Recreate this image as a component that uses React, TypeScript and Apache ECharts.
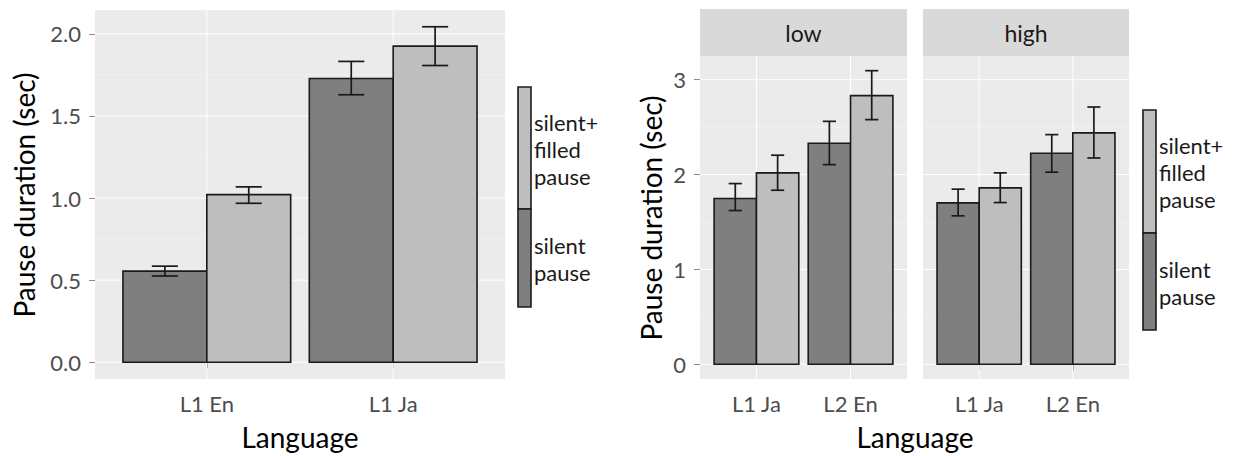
import React, { useEffect, useRef } from "react";
import * as echarts from "echarts";

// ---------- data ----------
const leftCategories = ["L1 En", "L1 Ja"];
const leftSilentMean = [0.555, 1.728];
const leftSilentLow = [0.525, 1.629];
const leftSilentHigh = [0.585, 1.832];
const leftFilledMean = [1.021, 1.925];
const leftFilledLow = [0.968, 1.807];
const leftFilledHigh = [1.068, 2.043];
const leftYTicks = [0, 0.5, 1, 1.5, 2];
const leftYMinor = [0.25, 0.75, 1.25, 1.75];

const facets = ["low", "high"];
const rightCategories = ["L1 Ja", "L2 En"];
const lowSilentMean = [1.747, 2.33];
const lowSilentLow = [1.621, 2.105];
const lowSilentHigh = [1.905, 2.561];
const lowFilledMean = [2.018, 2.832];
const lowFilledLow = [1.835, 2.579];
const lowFilledHigh = [2.204, 3.095];
const highSilentMean = [1.702, 2.225];
const highSilentLow = [1.565, 2.025];
const highSilentHigh = [1.846, 2.421];
const highFilledMean = [1.86, 2.439];
const highFilledLow = [1.705, 2.175];
const highFilledHigh = [2.018, 2.712];
const rightYTicks = [0, 1, 2, 3];
const rightYMinor = [0.5, 1.5, 2.5];

const seriesNames = ["silent pause", "silent+ filled pause"];
const legendLabels = ["silent\npause", "silent+\nfilled\npause"];
const xTitle = "Language";
const yTitle = "Pause duration (sec)";

// ---------- styles ----------
const FILLS = ["#7f7f7f", "#bebebe"];
const OUTLINE = "#1a1a1a";
const PANEL_BG = "#ebebeb";
const STRIP_BG = "#d9d9d9";
const FONT = "Lato";
const TICK_COLOR = "#4d4d4d";

function items(
  sMean: number[], sLow: number[], sHigh: number[],
  fMean: number[], fLow: number[], fHigh: number[]
) {
  const out: number[][] = [];
  sMean.forEach((m, i) => out.push([i + 1, 0, m, sLow[i], sHigh[i]]));
  fMean.forEach((m, i) => out.push([i + 1, 1, m, fLow[i], fHigh[i]]));
  return out;
}

function yRange(data: number[][]) {
  const hi = Math.max(...data.map((d) => d[4]));
  const pad = hi * 0.05;
  return [-pad, hi + pad];
}

const renderBar = (params: any, api: any) => {
  const x = api.value(0);
  const g = api.value(1);
  const mean = api.value(2);
  const x0 = x - 0.45 + g * 0.45;
  const x1 = x0 + 0.45;
  const p0 = api.coord([x0, 0]);
  const p1 = api.coord([x1, mean]);
  return {
    type: "rect",
    shape: { x: p0[0], y: p1[1], width: p1[0] - p0[0], height: p0[1] - p1[1] },
    style: { fill: FILLS[g], stroke: OUTLINE, lineWidth: 1.6 },
  };
};

const renderErr = (params: any, api: any) => {
  const x = api.value(0);
  const g = api.value(1);
  const lo = api.value(3);
  const hi = api.value(4);
  const xc = x - 0.45 + g * 0.45 + 0.225;
  const a = api.coord([xc - 0.07, hi]);
  const b = api.coord([xc + 0.07, lo]);
  const c = api.coord([xc, hi]);
  const d = api.coord([xc, lo]);
  const st = { stroke: OUTLINE, lineWidth: 1.7 };
  return {
    type: "group",
    children: [
      { type: "line", shape: { x1: a[0], y1: a[1], x2: b[0], y2: a[1] }, style: st },
      { type: "line", shape: { x1: a[0], y1: b[1], x2: b[0], y2: b[1] }, style: st },
      { type: "line", shape: { x1: c[0], y1: c[1], x2: d[0], y2: d[1] }, style: st },
    ],
  };
};

const renderGrid = (params: any, api: any) => {
  const kind = api.value(0);
  const v = api.value(1);
  const cs = params.coordSys;
  if (kind === 2) {
    const p = api.coord([v, 0]);
    return {
      type: "line",
      shape: { x1: p[0], y1: cs.y, x2: p[0], y2: cs.y + cs.height },
      style: { stroke: "#ffffff", lineWidth: 1 },
    };
  }
  const p = api.coord([1, v]);
  return {
    type: "line",
    shape: { x1: cs.x, y1: p[1], x2: cs.x + cs.width, y2: p[1] },
    style: { stroke: kind === 0 ? "#ffffff" : "#f4f4f4", lineWidth: kind === 0 ? 1 : 0.7 },
  };
};

export default function App() {
  const ref = useRef<HTMLDivElement>(null);
  useEffect(() => {
    if (!ref.current) return;
    const chart = echarts.init(ref.current, undefined, { renderer: "svg" });

    const leftData = items(leftSilentMean, leftSilentLow, leftSilentHigh, leftFilledMean, leftFilledLow, leftFilledHigh);
    const lowData = items(lowSilentMean, lowSilentLow, lowSilentHigh, lowFilledMean, lowFilledLow, lowFilledHigh);
    const highData = items(highSilentMean, highSilentLow, highSilentHigh, highFilledMean, highFilledLow, highFilledHigh);
    const leftR = yRange(leftData);
    const rightR = yRange([...lowData, ...highData]);

    const gridData = (major: number[], minor: number[]) => [
      ...major.map((v) => [0, v]),
      ...minor.map((v) => [1, v]),
      [2, 1],
      [2, 2],
    ];

    const grids = [
      { left: 95, top: 10, width: 410, height: 369 },
      { left: 700, top: 56, width: 207, height: 323 },
      { left: 923, top: 56, width: 206, height: 323 },
    ].map((g) => ({ ...g, show: true, backgroundColor: PANEL_BG, borderWidth: 0 }));

    const xAxisFor = (gi: number, cats: string[]) => ({
      type: "value",
      gridIndex: gi,
      min: 0.4,
      max: 2.6,
      axisLine: { show: false },
      splitLine: { show: false },
      axisTick: { show: true, length: 6, customValues: [1, 2], lineStyle: { color: "#8c8c8c", width: 1 } },
      axisLabel: {
        customValues: [1, 2],
        margin: 13,
        formatter: (v: number) => cats[Math.round(v) - 1],
        fontFamily: FONT,
        fontSize: 22,
        color: TICK_COLOR,
      },
    });

    const yAxisFor = (gi: number, r: number[], ticks: number[], dec: number, show: boolean) => ({
      type: "value",
      gridIndex: gi,
      min: r[0],
      max: r[1],
      axisLine: { show: false },
      splitLine: { show: false },
      axisTick: { show, length: 6, customValues: ticks, lineStyle: { color: "#8c8c8c", width: 1 } },
      axisLabel: {
        show,
        customValues: ticks,
        margin: 14,
        formatter: (v: number) => v.toFixed(dec),
        fontFamily: FONT,
        fontSize: 22,
        color: TICK_COLOR,
      },
    });

    const series: any[] = [];
    const datasets = [
      { gi: 0, data: leftData, major: leftYTicks, minor: leftYMinor },
      { gi: 1, data: lowData, major: rightYTicks, minor: rightYMinor },
      { gi: 2, data: highData, major: rightYTicks, minor: rightYMinor },
    ];
    datasets.forEach((d) => {
      series.push({
        type: "custom",
        xAxisIndex: d.gi,
        yAxisIndex: d.gi,
        z: 1,
        silent: true,
        renderItem: renderGrid,
        data: gridData(d.major, d.minor),
      });
      series.push({
        type: "custom",
        name: "bars",
        xAxisIndex: d.gi,
        yAxisIndex: d.gi,
        z: 2,
        renderItem: renderBar,
        data: d.data,
      });
      series.push({
        type: "custom",
        name: "errors",
        xAxisIndex: d.gi,
        yAxisIndex: d.gi,
        z: 3,
        renderItem: renderErr,
        data: d.data,
      });
    });

    const legendGroup = (x: number, top: number, hLight: number, hDark: number) => [
      {
        type: "rect",
        shape: { x, y: top, width: 13, height: hLight },
        style: { fill: FILLS[1], stroke: OUTLINE, lineWidth: 1.6 },
      },
      {
        type: "rect",
        shape: { x, y: top + hLight, width: 13, height: hDark },
        style: { fill: FILLS[0], stroke: OUTLINE, lineWidth: 1.6 },
      },
      {
        type: "text",
        x: x + 16,
        y: top + hLight / 2 + 1,
        style: {
          text: legendLabels[1],
          fontFamily: FONT,
          fontSize: 22,
          lineHeight: 27,
          fill: "#1a1a1a",
          align: "left",
          verticalAlign: "middle",
        },
      },
      {
        type: "text",
        x: x + 16,
        y: top + hLight + hDark / 2 + 1,
        style: {
          text: legendLabels[0],
          fontFamily: FONT,
          fontSize: 22,
          lineHeight: 27,
          fill: "#1a1a1a",
          align: "left",
          verticalAlign: "middle",
        },
      },
    ];

    const titleStyle = { fontFamily: FONT, fontSize: 28, fill: "#000000", align: "center", verticalAlign: "middle" };

    const graphic: any[] = [
      // facet strips
      { type: "rect", shape: { x: 700, y: 9, width: 207, height: 47 }, style: { fill: STRIP_BG } },
      { type: "rect", shape: { x: 923, y: 9, width: 206, height: 47 }, style: { fill: STRIP_BG } },
      { type: "text", x: 803.5, y: 33, style: { text: facets[0], fontFamily: FONT, fontSize: 23, fill: "#1a1a1a", align: "center", verticalAlign: "middle" } },
      { type: "text", x: 1026, y: 33, style: { text: facets[1], fontFamily: FONT, fontSize: 23, fill: "#1a1a1a", align: "center", verticalAlign: "middle" } },
      // axis titles
      { type: "text", x: 300, y: 437, style: { text: xTitle, ...titleStyle } },
      { type: "text", x: 915, y: 437, style: { text: xTitle, ...titleStyle } },
      { type: "text", x: 24, y: 195, rotation: Math.PI / 2, style: { text: yTitle, ...titleStyle } },
      { type: "text", x: 651, y: 218, rotation: Math.PI / 2, style: { text: yTitle, ...titleStyle } },
      ...legendGroup(518, 87, 122, 98),
      ...legendGroup(1143, 110, 123, 97),
    ];

    chart.setOption({
      animation: false,
      backgroundColor: "#ffffff",
      grid: grids,
      xAxis: [xAxisFor(0, leftCategories), xAxisFor(1, rightCategories), xAxisFor(2, rightCategories)],
      yAxis: [
        yAxisFor(0, leftR, leftYTicks, 1, true),
        yAxisFor(1, rightR, rightYTicks, 0, true),
        yAxisFor(2, rightR, rightYTicks, 0, false),
      ],
      series,
      graphic,
    });
    return () => chart.dispose();
  }, []);
  return (
    <div
      ref={ref}
      style={{ position: "fixed", left: 0, top: 0, width: 1236, height: 456, background: "#fff" }}
      aria-label={seriesNames.join(", ")}
    />
  );
}
